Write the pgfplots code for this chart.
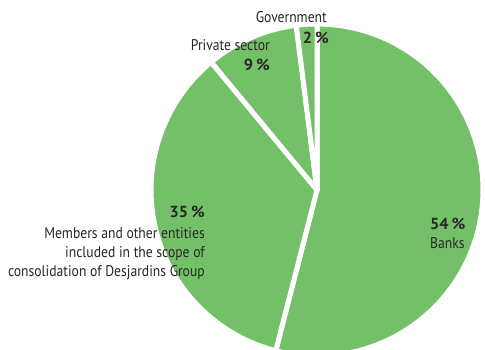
\documentclass[border=0pt]{standalone}
\usepackage{pgfplots}
\usepackage{pgfplotstable}
\pgfplotsset{compat=1.18}
\usepackage{fontspec}
\setmainfont[FakeStretch=0.88, BoldFeatures={FakeStretch=1.02}]{PT Sans}
\definecolor{piegreen}{RGB}{116,192,104}
\definecolor{txt}{RGB}{40,38,38}
\pgfplotstableread{
label value
Banks 54
Members 35
Private 9
Government 2
}\piedata
\tikzset{lbl/.style={text=txt, inner sep=0, font=\fontsize{15.5}{19}\selectfont},
  pct/.style={text=txt, inner sep=0, font=\fontsize{16}{19}\selectfont\bfseries}}
\begin{document}
\begin{tikzpicture}
\pgfplotstablegetelem{0}{value}\of\piedata \let\vA\pgfplotsretval
\pgfplotstablegetelem{1}{value}\of\piedata \let\vB\pgfplotsretval
\pgfplotstablegetelem{2}{value}\of\piedata \let\vC\pgfplotsretval
\pgfplotstablegetelem{3}{value}\of\piedata \let\vD\pgfplotsretval
\pgfmathsetmacro{\aA}{90}
\pgfmathsetmacro{\aB}{\aA-3.6*\vA}
\pgfmathsetmacro{\aC}{\aB-3.6*\vB}
\pgfmathsetmacro{\aD}{\aC-3.6*\vC}
\pgfmathsetmacro{\aE}{\aD-3.6*\vD}
\def\cx{317}\def\cy{160}\def\rr{166}
\path[use as bounding box] (0,0) rectangle (485pt,350pt);
\begin{axis}[width=485pt, height=350pt, scale only axis, at={(0,0)}, anchor=south west,
  xmin=0, xmax=485, ymin=0, ymax=350, hide axis, clip=true]
\pgfplotsset{slice/.style={fill=piegreen, draw=white, line width=5pt, line join=round, samples=120, variable=\t, mark=none}}
\addplot[slice, domain=\aB:\aA] ({\cx+\rr*cos(t)}, {\cy+\rr*sin(t)}) -- (\cx,\cy) -- cycle;
\addplot[slice, domain=\aC:\aB] ({\cx+\rr*cos(t)}, {\cy+\rr*sin(t)}) -- (\cx,\cy) -- cycle;
\addplot[slice, domain=\aD:\aC] ({\cx+\rr*cos(t)}, {\cy+\rr*sin(t)}) -- (\cx,\cy) -- cycle;
\addplot[slice, domain=\aE:\aD] ({\cx+\rr*cos(t)}, {\cy+\rr*sin(t)}) -- (\cx,\cy) -- cycle;
\node[lbl, anchor=east] at (axis cs:327,333) {Government};
\node[pct, anchor=east] at (axis cs:329,312) {2\hspace{3pt}\%};
\node[lbl, anchor=east] at (axis cs:270,305) {Private sector};
\node[pct, anchor=east] at (axis cs:270,285) {9\hspace{3pt}\%};
\node[pct, anchor=east] at (axis cs:205,138) {35\hspace{3pt}\%};
\node[lbl, anchor=east, align=right] at (axis cs:205,96) {Members and other entities\\included in the scope of\\consolidation of Desjardins Group};
\node[pct, anchor=west] at (axis cs:430,126) {54\hspace{3pt}\%};
\node[lbl, anchor=west] at (axis cs:430,107) {Banks};
\end{axis}
\end{tikzpicture}
\end{document}
